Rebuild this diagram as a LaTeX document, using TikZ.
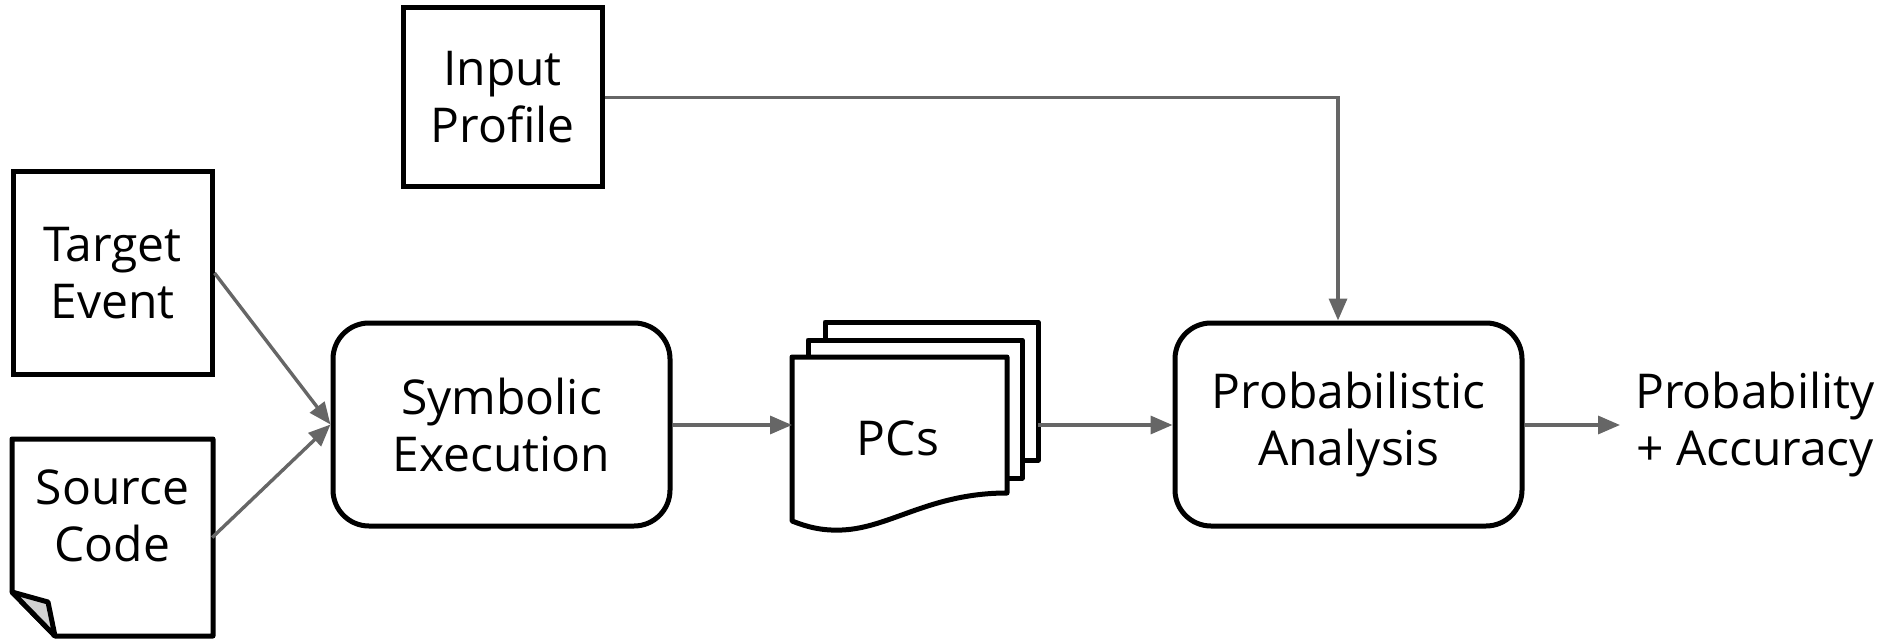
\documentclass[tikz,border=0pt]{standalone}
\usepackage{fontspec}
\setmainfont{Open Sans}
\usetikzlibrary{arrows.meta}
\definecolor{flow}{RGB}{102,102,102}
\definecolor{fold}{RGB}{210,210,210}
\begin{document}
\begin{tikzpicture}[x=1pt,y=-1pt,
  every node/.style={font=\fontsize{48}{57}\selectfont, align=center, inner sep=0pt},
  sqbox/.style={draw, line width=5pt, fill=white},
  procbox/.style={draw, line width=5pt, rounded corners=36pt, fill=white},
  outline/.style={line width=5pt, line join=round},
  flowarrow/.style={draw=flow, line width=3.4pt, -{Triangle[length=22pt,width=18pt]}}]
\useasboundingbox (0,0) rectangle (1886,639);

% inputs
\node[sqbox, minimum width=199pt, minimum height=179pt] (inp) at (502.5,97.5) {Input\\Profile};
\node[sqbox, minimum width=199pt, minimum height=202pt] (tgt) at (112.5,273) {Target\\Event};

% source code sheet with a folded corner
\node[minimum width=199pt, minimum height=197pt] (src) at (112.5,537.5) {};
\draw[outline, fill=white] (12,439) -- (213,439) -- (213,636) -- (55,636) -- (12,592) -- cycle;
\draw[outline, fill=fold] (12,592) -- (48,602) -- (55,636) -- cycle;
\node at (112.5,516) {Source\\Code};

% processing steps
\node[procbox, minimum width=337pt, minimum height=203pt] (sym) at (501.5,424.5) {Symbolic\\Execution};
\node[procbox, minimum width=347pt, minimum height=203pt] (prob) at (1348.5,424.5) {Probabilistic\\Analysis};

% stack of path conditions
\draw[outline, fill=white] (825,322) rectangle (1038,460);
\draw[outline, fill=white] (808,340) rectangle (1022,478);
\draw[outline, fill=white] (792,357) -- (1007,357) -- (1007,493)
  .. controls (930,493) and (890,528) .. (842,530)
  .. controls (820,531) and (805,526) .. (792,521) -- cycle;
\node (pcs) at (898,438) {PCs};
\coordinate (pcsin) at (792,425);
\coordinate (pcsout) at (1038,425);

% result
\node (res) at (1755,425) {Probability\\+ Accuracy};
\coordinate (resin) at (1620,425);

% connectors
\draw[flowarrow] (tgt.east) -- (sym.west);
\draw[flowarrow] (src.east) -- (sym.west);
\draw[flowarrow] (sym.east |- pcsin) -- (pcsin);
\draw[flowarrow] (pcsout) -- (prob.west |- pcsout);
\draw[flowarrow] (prob.east |- resin) -- (resin);
\coordinate (bend) at (1338,97.5);
\draw[flowarrow] (inp.east) -- (bend) -- (bend |- prob.north);
\end{tikzpicture}
\end{document}
